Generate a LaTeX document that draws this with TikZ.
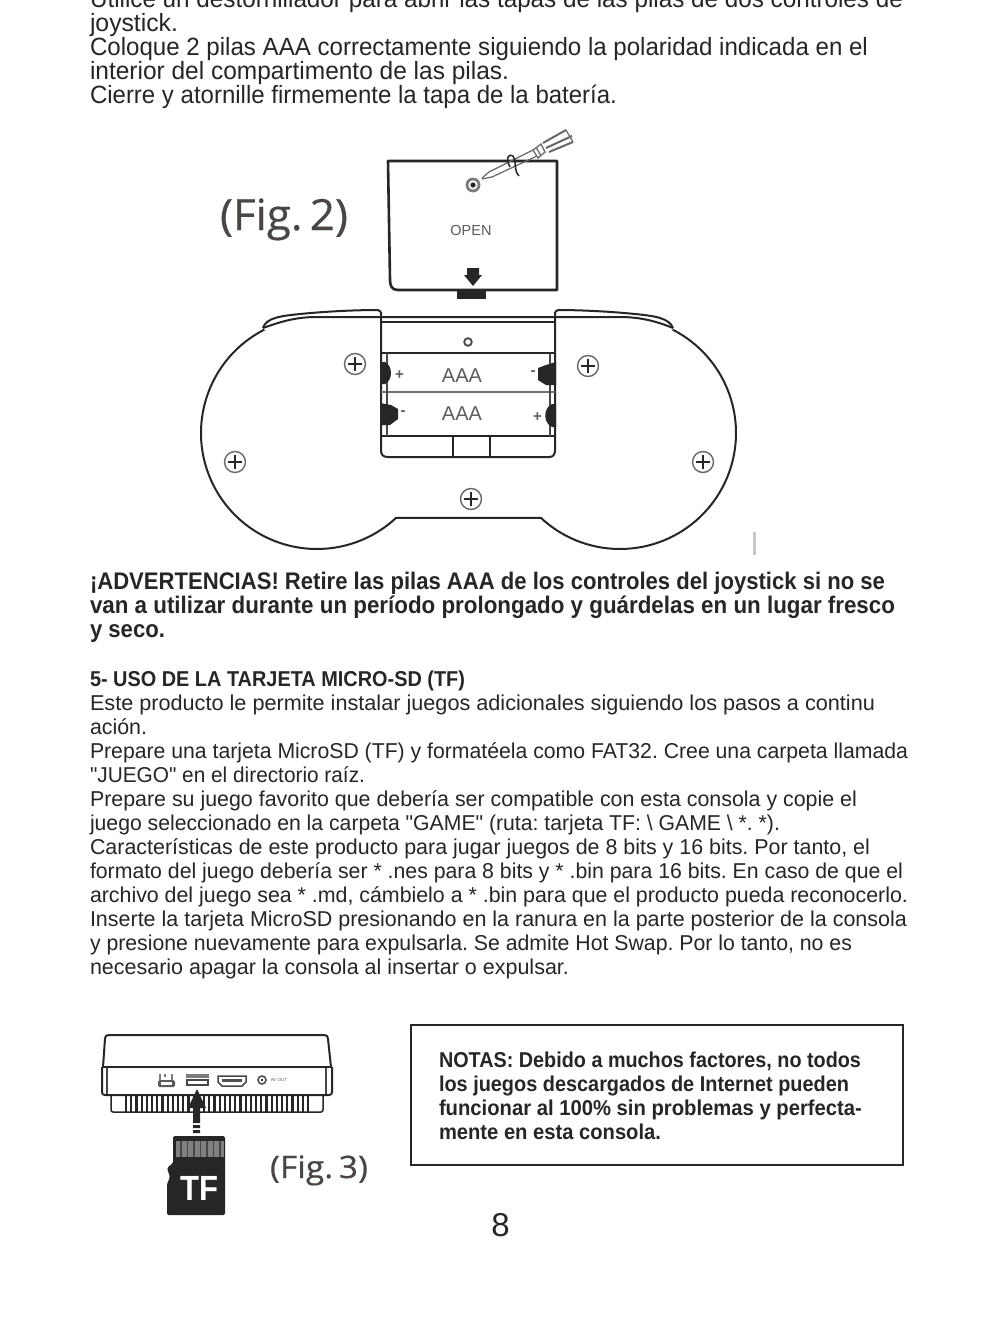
\documentclass[tikz,border=0pt]{standalone}
\usepackage{fontspec}
\setmainfont{Liberation Sans}
\newfontfamily\figfont[FakeBold=0.5]{Open Sans}
\newfontfamily\plainq{Liberation Sans}
\usetikzlibrary{calc}
\definecolor{ink}{HTML}{262626}
\definecolor{figc}{HTML}{4A4644}
\newlength\txtw
\newcommand\topfont{\frenchspacing\fontsize{25}{24}\selectfont}
\newcommand\warnfont{\frenchspacing\fontsize{24}{24}\selectfont\bfseries}
\newcommand\bodyfont{\frenchspacing\fontsize{21.5}{24}\selectfont}
\newcommand\bodyqfont{\frenchspacing\plainq\fontsize{21.5}{24}\selectfont}
\newcommand\boldfont{\frenchspacing\fontsize{21.5}{24}\selectfont\bfseries}
\newcommand\figtwofont{\figfont\fontsize{43}{43}\selectfont}
\newcommand\figthreefont{\figfont\fontsize{31}{31}\selectfont}
% name, x, baseline y, target width, font, text
\newcommand\tline[6]{%
  \node[txt] (#1) at (#2,#3) {\settowidth\txtw{#5#6}%
  \pgfmathsetmacro\txtr{#4/\txtw}\scalebox{\txtr}[1]{#5#6}};}
\tikzset{
  txt/.style={anchor=base west,inner sep=0pt,outer sep=0pt,text=ink},
  line/.style={draw=ink,line width=2pt,line join=round},
  thin/.style={draw=ink!85,line width=1.1pt},
  small/.style={inner sep=0pt,text=ink!75}
}
\newcommand\phscrew[3]{%
  \draw[draw=ink!70,line width=1.4pt] (#2,#3) circle[radius=10.5pt];
  \draw[draw=ink,line width=2pt] (#2-7,#3) -- (#2+7,#3) (#2,#3-7) -- (#2,#3+7);
}
\begin{document}
\begin{tikzpicture}[x=1pt,y=-1pt]
\clip (0,0) rectangle (990,1333);
\fill[white] (0,0) rectangle (990,1333);
% --- top text
\tline{t1}{90}{8}{813}{\topfont}{Utilice un destornillador para abrir las tapas de las pilas de dos controles de}
\tline{t2}{90}{31}{88}{\topfont}{joystick.}
\tline{t3}{90}{55}{778}{\topfont}{Coloque 2 pilas AAA correctamente siguiendo la polaridad indicada en el}
\tline{t4}{90}{79}{419}{\topfont}{interior del compartimento de las pilas.}
\tline{t5}{90}{103}{527}{\topfont}{Cierre y atornille firmemente la tapa de la batería.}
% --- Fig 2 : cover
\tline{fig2}{220}{230}{128}{\color{figc}\figtwofont}{(Fig.\,2)}
\draw[line,line width=2.6pt] (388,161) -- (557,161) -- (557,290) -- (398,290)
  .. controls (392,290) and (390,286) .. (390,280) -- cycle;
\fill[ink] (457,291) rectangle (486,299);
\fill[ink] (467,268) -- (479,268) -- (479,275) -- (482,275) -- (473,286) -- (464,275) -- (467,275) -- cycle;
\node[small] (open) at (471,231) {\fontsize{14.5}{15}\selectfont OPEN};
\draw[draw=ink!60,line width=2.8pt] (473,185) circle[radius=6pt];
\fill[ink] (473,185) circle[radius=2.6pt];
% screwdriver
\draw[draw=ink!70,line width=1.2pt] (482,178) -- (489,172) -- (533,150) (482,179) -- (492,177) -- (537,156);
\draw[draw=ink,line width=1.5pt] (510,167) .. controls (505,158) and (509,153) .. (513,156)
  .. controls (517,160) and (513,170) .. (519,176);
\draw[draw=ink!65,line width=1.4pt] (533,150) -- (541,144) -- (545,152) -- (538,158) -- cycle (536,147) -- (541,156);
\draw[draw=ink!70,line width=2pt] (543,143) -- (566,130) (546,148) -- (572,136) (549,152) -- (573,142);
\draw[draw=ink!70,line width=1.2pt] (566,130) -- (573,142);
% --- controller body
\draw[line] ([shift={(117:116pt)}]317,433) arc[start angle=117,end angle=313,radius=116pt]
  -- ([shift={(227:116pt)}]620,433) arc[start angle=227,end angle=423,radius=116pt];
\draw[line] (263,328) .. controls (280,322) and (295,317) .. (317,317) -- (620,317)
  .. controls (642,317) and (658,322) .. (673,328);
\draw[line] (263,328) .. controls (266,318) and (280,316) .. (300,314)
  .. controls (330,311) and (360,310) .. (378,310) -- (381,312);
\draw[line] (673,328) .. controls (669,318) and (655,316) .. (635,314)
  .. controls (605,311) and (575,310) .. (558,310) -- (555,312);
% battery bay
\draw[line] (381,312) -- (381,450) .. controls (381,455) and (383,457) .. (388,457)
  -- (549,457) .. controls (553,457) and (555,455) .. (555,450) -- (555,312);
\draw[line] (381,321.5) -- (555,321.5);
\draw[line] (381,353) -- (555,353);
\draw[line,draw=ink!65] (381,392) -- (555,392);
\draw[line] (381,436) -- (555,436);
\draw[line] (453,436) -- (453,457) (490,436) -- (490,457);
\draw[thin] (387,353) -- (387,436) (550,353) -- (550,436);
\draw[draw=ink!85,line width=1.8pt] (468,342) circle[radius=3.8pt];
\node[small] (aaa1) at (462,375.5) {\fontsize{20}{20}\selectfont AAA};
\node[small] (aaa2) at (462,414) {\fontsize{20}{20}\selectfont AAA};
\fill[ink] (381,362) -- (385,362) .. controls (393,366) and (393,380) .. (385,384) -- (381,384) -- cycle;
\fill[ink] (556,362) -- (556,385) -- (546,385) -- (538,380) -- (538,368) -- (546,365) -- cycle;
\fill[ink] (380,403) -- (380,425) -- (390,425) -- (398,419) -- (398,409) -- (391,405) -- cycle;
\fill[ink] (556,404) -- (552,404) .. controls (543,408) and (543,423) .. (552,427) -- (556,427) -- cycle;
\node[small] (p1) at (399.5,375.5) {\fontsize{15}{15}\selectfont\bfseries +};
\node[small] (m1) at (533,373) {\fontsize{15}{15}\selectfont\bfseries -};
\node[small] (m2) at (403,413) {\fontsize{15}{15}\selectfont\bfseries -};
\node[small] (p2) at (537.5,417) {\fontsize{15}{15}\selectfont\bfseries +};
\phscrew{s1}{355}{364}
\phscrew{s2}{588}{366}
\phscrew{s3}{235}{462}
\phscrew{s4}{703}{462}
\phscrew{s5}{471}{499}
\fill[black!22] (753,532) rectangle (756,555);
% --- warning
\tline{w1}{90}{589}{795}{\warnfont}{¡ADVERTENCIAS! Retire las pilas AAA de los controles del joystick si no se}
\tline{w2}{90}{613}{805}{\warnfont}{van a utilizar durante un período prolongado y guárdelas en un lugar fresco}
\tline{w3}{90}{637}{75}{\warnfont}{y seco.}
% --- section 5
\tline{h5}{90}{686}{375}{\boldfont}{5- USO DE LA TARJETA MICRO-SD (TF)}
\tline{b1}{90}{710}{785}{\bodyfont}{Este producto le permite instalar juegos adicionales siguiendo los pasos a continu}
\tline{b2}{90}{734}{57}{\bodyfont}{ación.}
\tline{b3}{90}{758}{818}{\bodyfont}{Prepare una tarjeta MicroSD (TF) y formatéela como FAT32. Cree una carpeta llamada}
\tline{b4}{90}{782}{275}{\bodyqfont}{"JUEGO" en el directorio raíz.}
\tline{b5}{90}{806}{767}{\bodyfont}{Prepare su juego favorito que debería ser compatible con esta consola y copie el}
\tline{b6}{90}{830}{690}{\bodyqfont}{juego seleccionado en la carpeta "GAME" (ruta: tarjeta TF: \textbackslash{} GAME \textbackslash{} *. *).}
\tline{b7}{90}{854}{780}{\bodyfont}{Características de este producto para jugar juegos de 8 bits y 16 bits. Por tanto, el}
\tline{b8}{90}{878}{813}{\bodyfont}{formato del juego debería ser * .nes para 8 bits y * .bin para 16 bits. En caso de que el}
\tline{b9}{90}{902}{818}{\bodyfont}{archivo del juego sea * .md, cámbielo a * .bin para que el producto pueda reconocerlo.}
\tline{b10}{90}{926}{817}{\bodyfont}{Inserte la tarjeta MicroSD presionando en la ranura en la parte posterior de la consola}
\tline{b11}{90}{950}{762}{\bodyfont}{y presione nuevamente para expulsarla. Se admite Hot Swap. Por lo tanto, no es}
\tline{b12}{90}{974}{479}{\bodyfont}{necesario apagar la consola al insertar o expulsar.}
% --- Fig 3 : console
\draw[line] (103,1067) -- (105,1039) .. controls (105,1036) and (106,1035) .. (109,1035)
  -- (324,1035) .. controls (327,1035) and (328,1036) .. (328,1039) -- (331,1067);
\draw[line] (102,1067) -- (332,1067);
\draw[line] (102,1067) -- (102,1092) .. controls (102,1094) and (103,1095) .. (105,1095)
  -- (329,1095) .. controls (331,1095) and (332,1094) .. (332,1092) -- (332,1067);
\draw[thin] (107,1068) -- (107,1094) (326,1068) -- (326,1094);
\draw[line,line width=1.5pt] (111,1095) -- (111,1110) .. controls (111,1111) and (112,1112) .. (113,1112)
  -- (321,1112) .. controls (322,1112) and (323,1111) .. (323,1110) -- (323,1095);
\foreach \hx in {126,131.2,...,308}{\draw[draw=ink,line width=2.2pt] (\hx,1096) -- (\hx,1112);}
% ports
\fill[ink!75,rounded corners=1.5pt] (158,1080) rectangle (175,1087);
\fill[white] (161,1082) rectangle (172,1085);
\draw[thin,draw=ink!60] (160,1074) -- (160,1080) (172,1074) -- (172,1080) (165,1074) -- (165,1077);
\fill[ink!60] (186,1074) rectangle (209,1078);
\draw[thin,line width=1.4pt] (187,1080) rectangle (208,1085);
\draw[thin,line width=1.5pt] (218,1076) -- (246,1076) -- (246,1082) -- (242,1086) -- (222,1086) -- (218,1082) -- cycle;
\fill[ink!80] (222,1079) rectangle (242,1082);
\draw[draw=ink!80,line width=1.6pt] (262,1080) circle[radius=4pt];
\fill[ink] (262,1080) circle[radius=1.3pt];
\node[small] (avout) at (279,1080) {\fontsize{4.5}{5}\selectfont AV OUT};
% arrow
\fill[ink] (197,1089) -- (206,1108) -- (200,1108) -- (200,1123) -- (193,1123) -- (193,1108) -- (188,1108) -- cycle;
\fill[ink] (193,1125) rectangle (200,1128) (193,1130) rectangle (200,1133);
% TF card
\fill[ink,rounded corners=1.5pt] (173,1136) -- (225,1136) -- (225,1215) -- (167,1215) -- (167,1184)
  -- (170,1177) -- (167,1168) -- (173,1163) -- cycle;
\fill[black!50] (176,1141) rectangle (224,1157);
\foreach \cx in {180,186.5,...,222}{\fill[ink!85] (\cx,1141) rectangle (\cx+1.6,1157);}
\tline{tf}{180}{1200}{38}{\color{white}\fontsize{35}{35}\selectfont\bfseries}{TF}
\tline{fig3}{270}{1178}{98}{\color{figc}\figthreefont}{(Fig.\,3)}
% --- notes box
\draw[draw=ink,line width=1.4pt] (411,1025) rectangle (903,1165);
\tline{n1}{439}{1067}{422}{\boldfont}{NOTAS: Debido a muchos factores, no todos}
\tline{n2}{439}{1091}{410}{\boldfont}{los juegos descargados de Internet pueden}
\tline{n3}{439}{1115}{423}{\boldfont}{funcionar al 100\% sin problemas y perfecta-}
\tline{n4}{439}{1139}{222}{\boldfont}{mente en esta consola.}
\node[anchor=base,inner sep=0pt,text=ink] (page) at (500.5,1236) {\fontsize{33}{33}\selectfont 8};
\end{tikzpicture}
\end{document}
